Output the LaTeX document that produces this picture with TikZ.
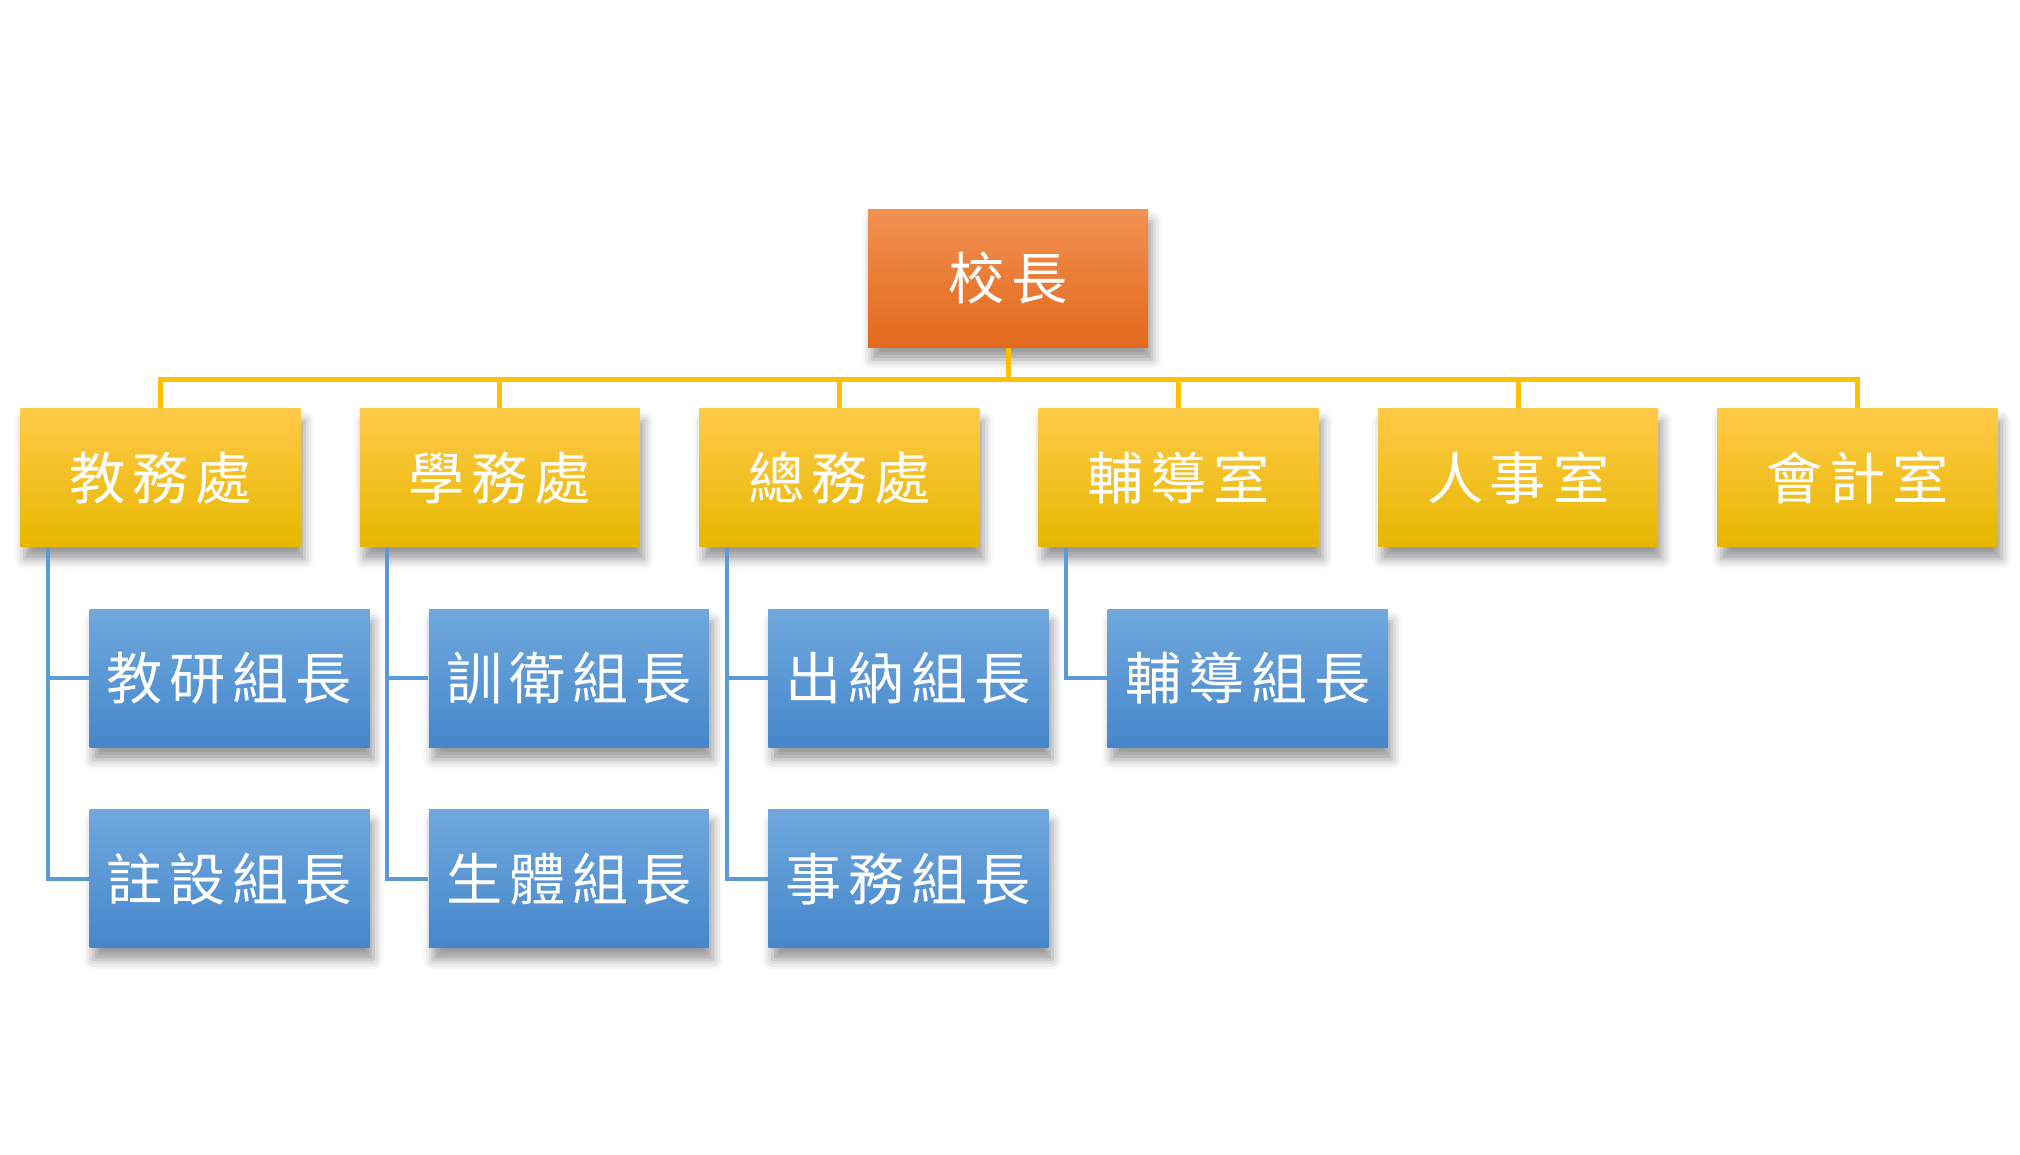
\documentclass[tikz,border=0pt]{standalone}
\usepackage{fontspec}
\newfontfamily\cjk[LetterSpace=12]{Noto Sans CJK TC}
\usetikzlibrary{positioning, shadows.blur}
\definecolor{headtop}{HTML}{F29052}
\definecolor{headbot}{HTML}{E2691C}
\definecolor{depttop}{HTML}{FFCA48}
\definecolor{deptmid}{HTML}{FFC200}
\definecolor{deptbot}{HTML}{E6B700}
\definecolor{teamtop}{HTML}{70A8DE}
\definecolor{teambot}{HTML}{4586CA}
\definecolor{busline}{HTML}{FFC000}
\definecolor{branchline}{HTML}{5B9BD5}
\tikzset{
  unit/.style={
    rectangle,
    minimum width=2.8cm,
    minimum height=1.38cm,
    inner sep=0pt,
    align=center,
    text=white,
    font=\cjk\fontsize{16}{19}\selectfont,
    blur shadow={shadow xshift=0.4mm, shadow yshift=-1.2mm, shadow blur radius=1mm, shadow opacity=40}
  },
  head/.style={unit, top color=headtop, bottom color=headbot},
  dept/.style={unit, top color=depttop, middle color=deptmid, bottom color=deptbot},
  team/.style={unit, top color=teamtop, bottom color=teambot},
  bus/.style={busline, line width=0.5mm},
  branch/.style={branchline, line width=0.4mm}
}
\begin{document}
\begin{tikzpicture}[node distance=0.58cm]
    \useasboundingbox (0,0) rectangle (20.2,11.55);
    \node (boss) [head] at (10.08,8.765) {校長};
    \node (d1) [dept] at (1.605,6.77) {教務處};
    \node (d2) [dept, right=of d1] {學務處};
    \node (d3) [dept, right=of d2] {總務處};
    \node (d4) [dept, right=of d3] {輔導室};
    \node (d5) [dept, right=of d4] {人事室};
    \node (d6) [dept, right=of d5] {會計室};
    \node (t11) [team, below=0.61cm of d1, xshift=0.69cm] {教研組長};
    \node (t12) [team, below=0.61cm of t11] {註設組長};
    \node (t21) [team, below=0.61cm of d2, xshift=0.69cm] {訓衛組長};
    \node (t22) [team, below=0.61cm of t21] {生體組長};
    \node (t31) [team, below=0.61cm of d3, xshift=0.69cm] {出納組長};
    \node (t32) [team, below=0.61cm of t31] {事務組長};
    \node (t41) [team, below=0.61cm of d4, xshift=0.69cm] {輔導組長};
    \foreach \d in {d1,d2,d3,d4,d5,d6}
      \draw[bus] (boss.south) -- ++(0,-0.315) -| (\d.north);
    \foreach \d/\t in {d1/t11,d1/t12,d2/t21,d2/t22,d3/t31,d3/t32,d4/t41}
      \draw[branch] ([xshift=0.28cm]\d.south west) |- (\t.west);
\end{tikzpicture}
\end{document}
